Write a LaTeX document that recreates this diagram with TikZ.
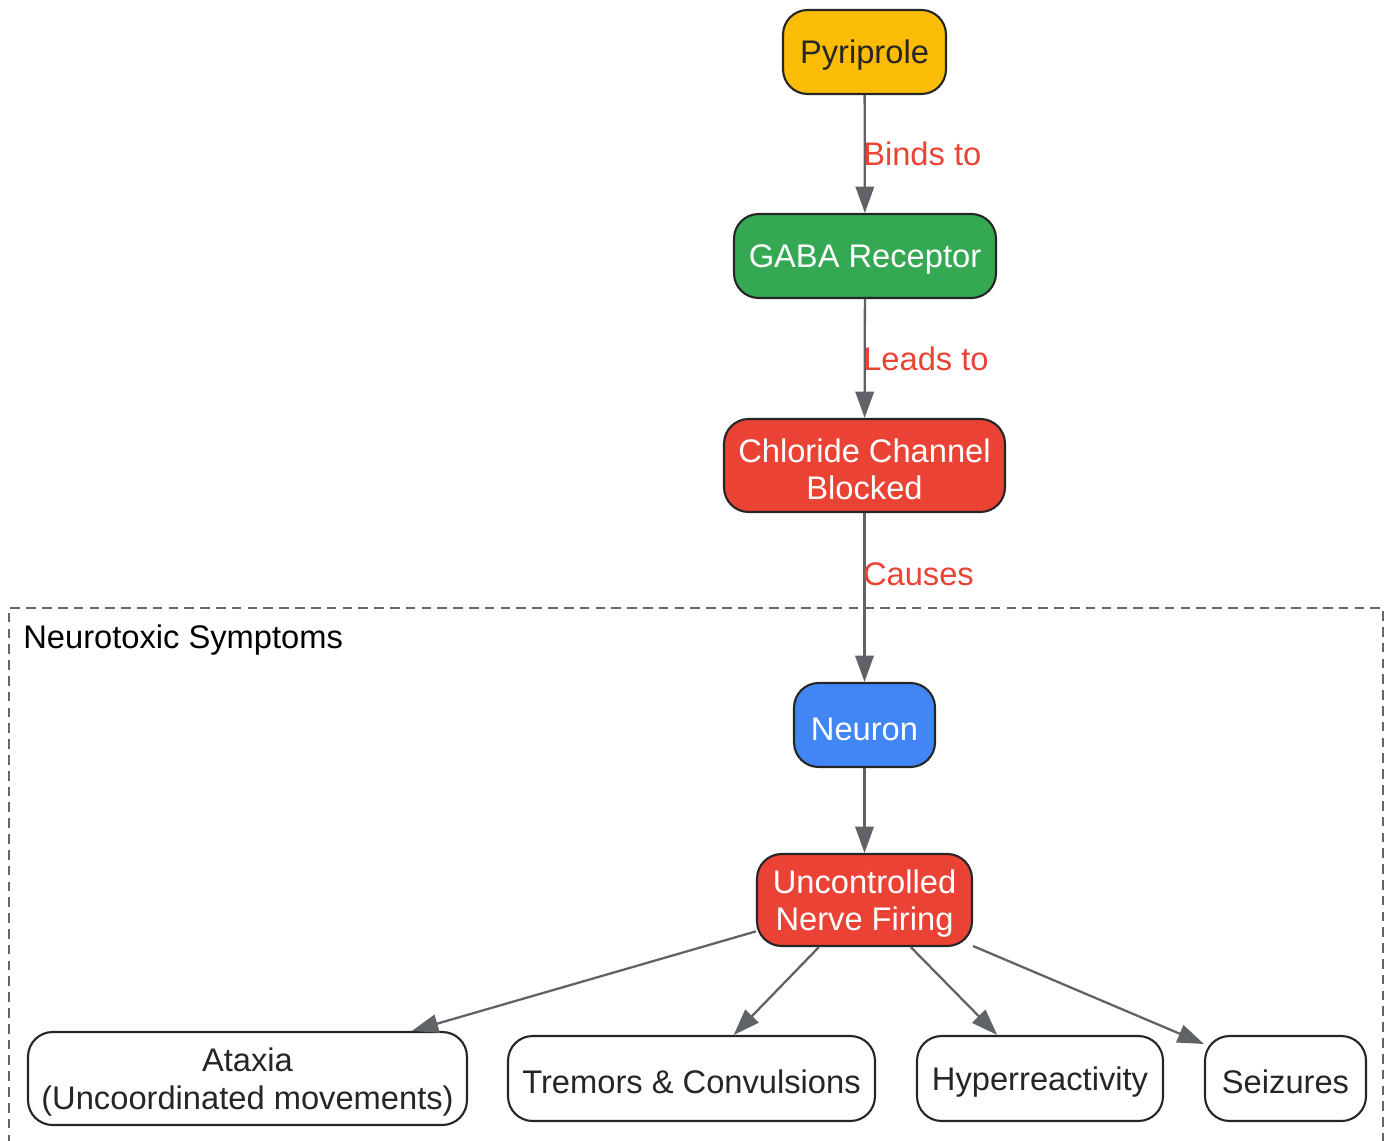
\documentclass[tikz,border=0pt]{standalone}
\usepackage{fontspec}
\setmainfont{Liberation Sans}
\usetikzlibrary{arrows.meta}

\definecolor{pyrYellow}{HTML}{FBBC05}
\definecolor{gabaGreen}{HTML}{34A853}
\definecolor{blockRed}{HTML}{EA4335}
\definecolor{neuronBlue}{HTML}{4285F4}
\definecolor{edgeGray}{HTML}{5F6368}
\definecolor{boxGray}{HTML}{666666}

% strut that pushes the first line down a little
\newcommand{\lift}{\rule{0pt}{17.5pt}}

\tikzset{
	stage/.style={draw=black!85, line width=1.2pt, rounded corners=14pt,
		align=center, font=\fontsize{18.6}{21.3}\selectfont, inner sep=0pt,
		execute at begin node={\lift}},
	symptom/.style={stage, fill=white, text=black!85},
	flow/.style={draw=edgeGray, line width=1.3pt,
		-{Triangle[width=10.5pt,length=15pt]}},
	flowlabel/.style={text=blockRed, font=\fontsize{18.6}{21.3}\selectfont,
		anchor=west, inner sep=0pt, xshift=-1.5pt}
}

\begin{document}
\begin{tikzpicture}[x=0.02cm, y=-0.02cm]
		
		% Page
		\useasboundingbox (0,0) rectangle (1391,1141);
		
		% Group box
		\draw[boxGray, line width=1.2pt, dash pattern=on 5.5pt off 3.5pt]
		(9,1160) -- (9,608) -- (1383,608) -- (1383,1160);
		\node[anchor=west, inner sep=0pt, font=\fontsize{18.6}{21.3}\selectfont]
		(grouplabel) at (23,640) {Neurotoxic Symptoms};
		
		% Chain
		\node[stage, fill=pyrYellow, text=black!85, minimum width=3.26cm, minimum height=1.68cm]
		(pyriprole) at (864.5,52) {Pyriprole};
		\node[stage, fill=gabaGreen, text=white, minimum width=5.24cm, minimum height=1.68cm]
		(gaba) at (865,256) {GABA Receptor};
		\node[stage, fill=blockRed, text=white, minimum width=5.62cm, minimum height=1.86cm]
		(chloride) at (864.5,465.5) {\lift Chloride Channel\\Blocked};
		\node[stage, fill=neuronBlue, text=white, minimum width=2.82cm, minimum height=1.68cm]
		(neuron) at (864.5,725) {Neuron};
		\node[stage, fill=blockRed, text=white, minimum width=4.30cm, minimum height=1.84cm]
		(firing) at (864.5,900) {\lift Uncontrolled\\Nerve Firing};
		
		% Symptoms
		\node[symptom, minimum width=8.78cm, minimum height=1.86cm]
		(ataxia) at (247.5,1078.5) {\lift Ataxia\\(Uncoordinated movements)};
		\node[symptom, minimum width=7.34cm, minimum height=1.70cm]
		(tremors) at (691.5,1078.5) {Tremors \& Convulsions};
		\node[symptom, minimum width=4.92cm, minimum height=1.70cm]
		(hyper) at (1040,1078.5) {Hyperreactivity};
		\node[symptom, minimum width=3.22cm, minimum height=1.70cm]
		(seizures) at (1285.5,1078.5) {Seizures};
		
		% Connectors
		\draw[flow] (pyriprole) -- node[flowlabel] {Binds to} (gaba);
		\draw[flow] (gaba) -- node[flowlabel] {Leads to} (chloride);
		\draw[flow] (chloride) -- node[flowlabel, pos=0.36] {Causes} (neuron);
		\draw[flow] (neuron) -- (firing);
		\foreach \s in {ataxia, tremors, hyper, seizures} {
			\draw[flow] (firing) -- (\s);
		}
		
	\end{tikzpicture}
\end{document}
